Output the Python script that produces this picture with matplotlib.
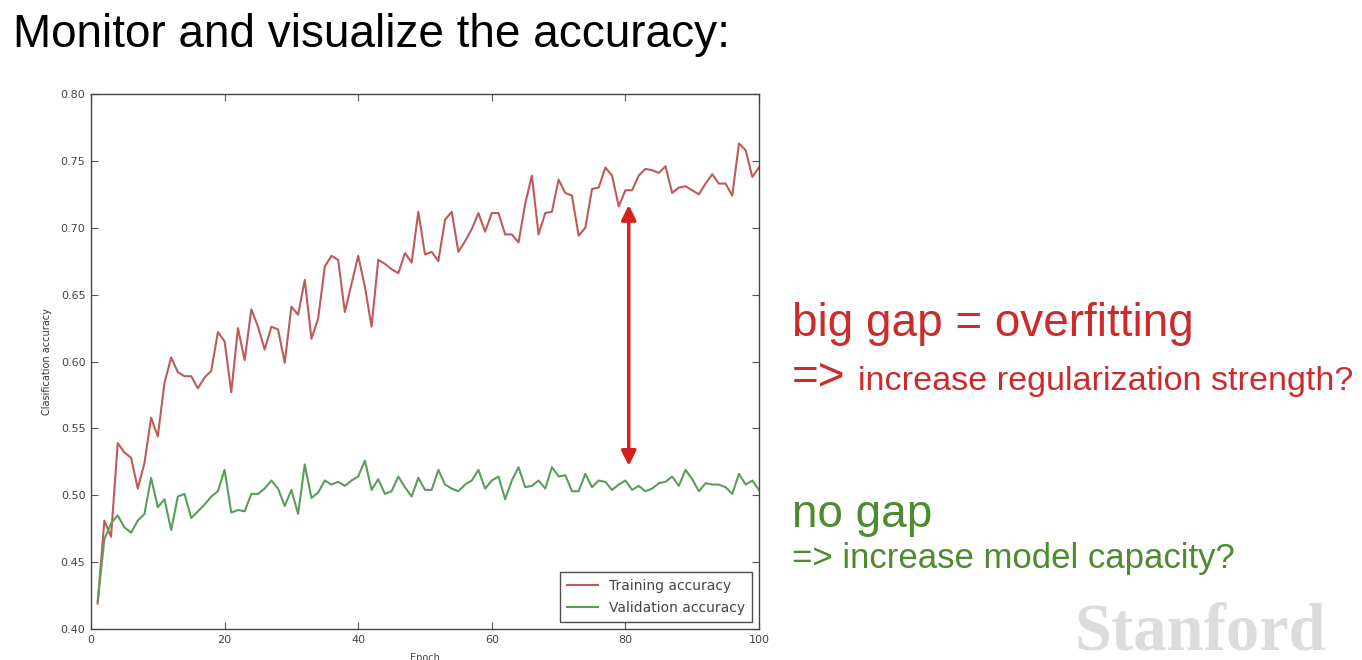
import numpy as np
import matplotlib
matplotlib.use('Agg')
import matplotlib.pyplot as plt

W, H = 1362, 660

epochs = np.arange(1, 101)

train_acc = [0.419, 0.481, 0.469, 0.539, 0.532, 0.528, 0.505, 0.524, 0.558, 0.544,
             0.584, 0.603, 0.592, 0.589, 0.589, 0.580, 0.588, 0.593, 0.622, 0.615,
             0.577, 0.625, 0.601, 0.639, 0.626, 0.609, 0.626, 0.624, 0.599, 0.641,
             0.635, 0.661, 0.617, 0.632, 0.671, 0.679, 0.676, 0.637, 0.658, 0.679,
             0.656, 0.626, 0.676, 0.673, 0.669, 0.666, 0.681, 0.674, 0.712, 0.680,
             0.682, 0.675, 0.706, 0.712, 0.682, 0.690, 0.699, 0.711, 0.697, 0.711,
             0.711, 0.695, 0.695, 0.689, 0.718, 0.739, 0.695, 0.711, 0.712, 0.736,
             0.726, 0.724, 0.694, 0.700, 0.729, 0.730, 0.745, 0.739, 0.716, 0.728,
             0.728, 0.739, 0.744, 0.743, 0.741, 0.746, 0.726, 0.730, 0.731, 0.728,
             0.725, 0.733, 0.740, 0.733, 0.733, 0.724, 0.763, 0.758, 0.738, 0.745]

val_acc = [0.421, 0.467, 0.479, 0.485, 0.476, 0.472, 0.481, 0.486, 0.513, 0.491,
           0.497, 0.474, 0.499, 0.501, 0.483, 0.488, 0.493, 0.499, 0.503, 0.519,
           0.487, 0.489, 0.488, 0.501, 0.501, 0.505, 0.511, 0.505, 0.492, 0.504,
           0.486, 0.523, 0.498, 0.502, 0.511, 0.508, 0.510, 0.507, 0.511, 0.514,
           0.526, 0.504, 0.512, 0.501, 0.503, 0.514, 0.506, 0.499, 0.513, 0.504,
           0.504, 0.519, 0.508, 0.505, 0.503, 0.508, 0.511, 0.519, 0.505, 0.511,
           0.514, 0.497, 0.511, 0.521, 0.506, 0.507, 0.511, 0.505, 0.521, 0.514,
           0.515, 0.503, 0.503, 0.516, 0.506, 0.511, 0.510, 0.504, 0.508, 0.511,
           0.504, 0.507, 0.503, 0.505, 0.509, 0.510, 0.514, 0.507, 0.519, 0.512,
           0.503, 0.509, 0.508, 0.508, 0.506, 0.501, 0.516, 0.508, 0.511, 0.504]

xticks = [0, 20, 40, 60, 80, 100]
yticks = [0.40, 0.45, 0.50, 0.55, 0.60, 0.65, 0.70, 0.75, 0.80]

# gap arrow drawn at this epoch, between these accuracies
gap_x = 80.5
gap_top, gap_bottom = 0.717, 0.522

red_txt = '#cc2b2b'
green_txt = '#4e8a2e'
sans = ['Liberation Sans', 'DejaVu Sans']


def fx(px):
    return px / W


def fy(py):
    return 1 - py / H


fig = plt.figure(figsize=(W / 100, H / 100), dpi=100)
fig.patch.set_facecolor('white')

ax = fig.add_axes([fx(91), fy(629), (759 - 91) / W, (629 - 94) / H])
ax.plot(epochs, train_acc, color='#bf5a5a', lw=1.5, label='Training accuracy')
ax.plot(epochs, val_acc, color='#5c9c5c', lw=1.5, label='Validation accuracy')
ax.set_xlim(0, 100)
ax.set_ylim(0.40, 0.80)
ax.set_xticks(xticks)
ax.set_yticks(yticks)
ax.set_yticklabels(['%.2f' % v for v in yticks])
ax.tick_params(direction='in', top=True, right=True, length=5, width=0.8,
               labelsize=8, labelcolor='#444444', color='#555555', pad=4)
for s in ax.spines.values():
    s.set_color('#444444')
    s.set_linewidth(1.0)
ax.set_xlabel('Epoch', fontsize=7, color='#444444', labelpad=6)
ax.set_ylabel('Clasification accuracy', fontsize=7, color='#333333', labelpad=6)

leg = ax.legend(loc='lower right', fontsize=10, frameon=True, fancybox=False,
                handlelength=2.2, borderaxespad=0.5, labelspacing=0.6,
                borderpad=0.5)
leg.get_frame().set_edgecolor('#222222')
leg.get_frame().set_linewidth(1.0)
for t in leg.get_texts():
    t.set_color('#444444')

ax.annotate('', xy=(gap_x, gap_top), xytext=(gap_x, gap_bottom),
            arrowprops=dict(arrowstyle='<|-|>', color='#d42020', lw=2.5,
                            mutation_scale=22, shrinkA=0, shrinkB=0))

fig.text(fx(13), fy(47), 'Monitor and visualize the accuracy:', fontsize=33,
         family=sans, color='black', va='baseline', ha='left')

fig.text(fx(792), fy(336), 'big gap = overfitting', fontsize=33, family=sans,
         color=red_txt, va='baseline')
fig.text(fx(792), fy(390), '=>', fontsize=33, family=sans, color=red_txt, va='baseline')
fig.text(fx(858), fy(390), 'increase regularization strength?', fontsize=24.6,
         family=sans, color=red_txt, va='baseline')

fig.text(fx(792), fy(527), 'no gap', fontsize=33, family=sans, color=green_txt,
         va='baseline')
fig.text(fx(792), fy(568), '=> increase model capacity?', fontsize=25, family=sans,
         color=green_txt, va='baseline')

fig.text(fx(1075), fy(650), 'Stanford', fontsize=48, fontweight='bold',
         family=['Liberation Serif', 'DejaVu Serif'], color='#dcdcdc', va='baseline')

fig.savefig('out.png', dpi=100, facecolor='white')
